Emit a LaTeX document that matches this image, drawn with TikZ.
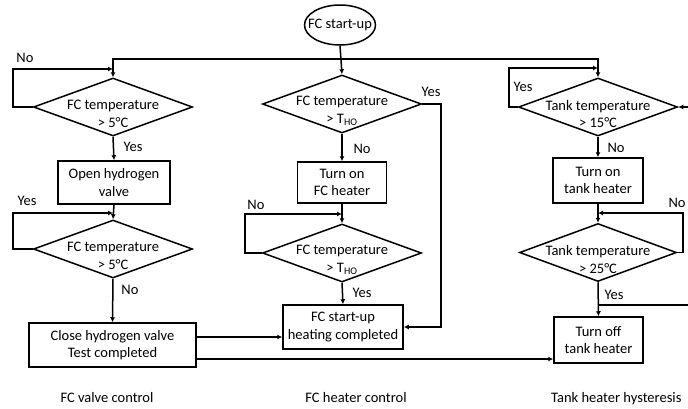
\documentclass[tikz,border=0pt]{standalone}
\usepackage{fontspec}
\setmainfont{Carlito}
\usetikzlibrary{shapes.geometric,arrows.meta}
\begin{document}
\begin{tikzpicture}[x=1pt,y=-1pt,
  every node/.style={font=\fontsize{14.5}{17.5}\selectfont},
  line/.style={line width=1.5pt},
  arr/.style={line width=1.5pt,-{Latex[length=5pt,width=5pt]}},
  dia/.style={diamond,draw,line width=1.5pt,inner sep=0pt,minimum width=159pt,minimum height=58pt},
  dtext/.style={inner sep=0pt,align=center,yshift=-7pt},
  box/.style={rectangle,draw,line width=1.5pt,align=center,inner sep=0pt},
  lbl/.style={inner sep=0pt,text height=9pt,text depth=0pt}
]
\clip (0,0) rectangle (688,408);
% start
\node[ellipse,draw,line width=1.5pt,inner sep=0pt,minimum width=71pt,minimum height=40pt,
  label={[inner sep=0pt]center:FC start-up}] (start) at (340,25) {};
% left column
\node[dia,label={[dtext]center:{FC temperature\\> 5°C}}] (d1) at (113,107) {};
\node[box,minimum width=112pt,minimum height=43pt] (b1) at (114,182.5) {Open hydrogen\\valve};
\node[dia,label={[dtext]center:{FC temperature\\> 5°C}}] (d3) at (113,249) {};
\node[box,minimum width=167pt,minimum height=44pt] (b3) at (112.5,345) {Close hydrogen valve\\Test completed};
% middle column
\node[dia,label={[dtext]center:{FC temperature\\> T\textsubscript{HO}}}] (d2) at (342,104) {};
\node[box,minimum width=89pt,minimum height=41pt] (b2) at (342,182.5) {Turn on\\FC heater};
\node[dia,label={[dtext]center:{FC temperature\\> T\textsubscript{HO}}}] (d4) at (342,253) {};
\node[box,minimum width=120pt,minimum height=44pt] (b4) at (343,327) {FC start-up\\heating completed};
% right column
\node[dia,label={[dtext]center:{Tank temperature\\> 15°C}}] (d5) at (598,107) {};
\node[box,minimum width=90pt,minimum height=45pt] (b5) at (598,180.5) {Turn on\\tank heater};
\node[dia,minimum width=157pt,label={[dtext]center:{Tank temperature\\> 25°C}}] (d6) at (598,252.5) {};
\node[box,minimum width=89pt,minimum height=46pt] (b6) at (598.5,340) {Turn off\\tank heater};
% helper coordinates
\coordinate (hl) at (0,59);
\coordinate (l1) at (13,69);
\coordinate (l3) at (13,213);
\coordinate (l4) at (245,214);
\coordinate (l2) at (441,327);
\coordinate (l5) at (509,68);
\coordinate (l6) at (683,213);
\coordinate (l7) at (598,305);
\coordinate (l8) at (696,305);
\coordinate (r1) at (0,337);
\coordinate (r2) at (0,359);
% connectors
\draw[arr] (start.south) -- (d2.north);
\draw[arr] (d2.north |- hl) -| (d1.north);
\draw[arr] (d2.north |- hl) -| (d5.north);
\draw[arr] (d1.west) -| (l1) -- (d1.north |- l1);
\draw[arr] (d1.south) -- (b1.north);
\draw[arr] (b1.south) -- (d3.north);
\draw[arr] (d3.west) -| (l3) -- (d3.north |- l3);
\draw[arr] (d3.south) -- (b3.north);
\draw[arr] (b3.east |- r1) -- (b4.west |- r1);
\draw[arr] (b3.east |- r2) -- (b6.west |- r2);
\draw[arr] (d2.south) -- (b2.north);
\draw[arr] (b2.south) -- (d4.north);
\draw[arr] (d4.west) -| (l4) -- (d4.north |- l4);
\draw[arr] (d4.south) -- (b4.north);
\draw[arr] (d2.east) -| (l2) -- (b4.east);
\draw[arr] (d5.west) -| (l5) -- (d5.north |- l5);
\draw[arr] (d5.south) -- (b5.north);
\draw[arr] (b5.south) -- (d6.north);
\draw[arr] (d6.east) -| (l6) -- (d6.north |- l6);
\draw[arr] (d6.south) -- (b6.north);
\draw[arr] (l7) -- (l8) |- (d5.east);
% branch labels
\node[lbl] (n1) at (25,58) {No};
\node[lbl] (y1) at (133,147) {Yes};
\node[lbl] (y3) at (27,201) {Yes};
\node[lbl] (n3) at (130,290) {No};
\node[lbl] (y2) at (431,92) {Yes};
\node[lbl] (n2) at (362,149) {No};
\node[lbl] (n4) at (256,205) {No};
\node[lbl] (y4) at (362,293) {Yes};
\node[lbl] (y5) at (523,87) {Yes};
\node[lbl] (n5) at (616,148) {No};
\node[lbl] (n6) at (677,203) {No};
\node[lbl] (y6) at (614,295) {Yes};
% captions
\node[anchor=base,inner sep=0pt] (c1) at (107,402) {FC valve control};
\node[anchor=base,inner sep=0pt] (c2) at (356,402) {FC heater control};
\node[anchor=base west,inner sep=0pt] (c3) at (551,402) {Tank heater hysteresis};
\end{tikzpicture}
\end{document}
